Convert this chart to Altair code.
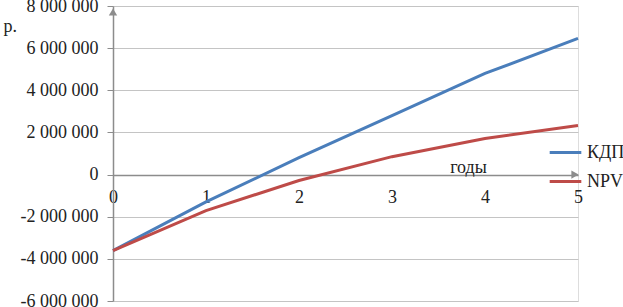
import altair as alt
import pandas as pd

years = [0, 1, 2, 3, 4, 5]
kdp = [-3610000, -1300000, 800000, 2800000, 4800000, 6460000]
npv = [-3610000, -1710000, -280000, 850000, 1710000, 2330000]
series_names = ["КДП", "NPV"]
colors = ["#4a7ebb", "#be4b48"]
y_ticks = [-6000000, -4000000, -2000000, 0, 2000000, 4000000, 6000000, 8000000]

rows = []
for name, vals in zip(series_names, [kdp, npv]):
    for x, v in zip(years, vals):
        rows.append({"year": x, "value": v, "series": name})
df = pd.DataFrame(rows)

FONT = "Liberation Serif"
GRAY = "#8c8c8c"

xscale = alt.Scale(domain=[0, 5], nice=False, zero=False)
yscale = alt.Scale(domain=[-6000000, 8000000], nice=False)

label_expr = ("(datum.value < 0 ? '-' : '') + replace(replace(format(abs(datum.value), ','), ',', ' '), ',', ' ')")

lines = alt.Chart(df).mark_line(strokeWidth=3).encode(
    x=alt.X("year:Q", scale=xscale,
            axis=alt.Axis(values=years, format="d", offset=-126, ticks=False, grid=False,
                          labelFlush=False, labelOverlap=False,
                          domainColor=GRAY, domainWidth=1.5, labelPadding=13,
                          labelFont=FONT, labelFontSize=18, labelColor="#222",
                          title="годы", titleFont=FONT, titleFontSize=18,
                          titleFontWeight="normal", titleColor="#222",
                          titleX=355, titleY=-3, titleBaseline="alphabetic",
                          titleAlign="center")),
    y=alt.Y("value:Q", scale=yscale,
            axis=alt.Axis(values=y_ticks, labelExpr=label_expr, grid=True,
                          labelFlush=False, labelOverlap=False,
                          gridColor="#c4c4c4", gridWidth=1, tickSize=6,
                          tickColor=GRAY, domainColor=GRAY, domainWidth=1.5,
                          labelPadding=9, labelFont=FONT, labelFontSize=18,
                          labelColor="#222", title="р.", titleAngle=0,
                          titleFont=FONT, titleFontSize=18, titleFontWeight="normal",
                          titleColor="#222", titleX=-110, titleY=20,
                          titleAlign="left", titleBaseline="middle")),
    color=alt.Color("series:N",
                    scale=alt.Scale(domain=series_names, range=colors),
                    sort=series_names,
                    legend=alt.Legend(title=None, orient="none", legendX=435,
                                      legendY=129, symbolType="stroke",
                                      symbolSize=1000, symbolStrokeWidth=3,
                                      labelFont=FONT, labelFontSize=18,
                                      labelColor="#222", rowPadding=2,
                                      labelOffset=4)),
)

arrows_df = pd.DataFrame({
    "year": [0, 5],
    "value": [8000000, 0],
})
arrow_up = alt.Chart(arrows_df.iloc[[0]]).mark_point(
    shape="triangle-up", filled=True, color=GRAY, size=70, yOffset=6, opacity=1
).encode(x=alt.X("year:Q", scale=xscale), y=alt.Y("value:Q", scale=yscale))
arrow_right = alt.Chart(arrows_df.iloc[[1]]).mark_point(
    shape="triangle-right", filled=True, color=GRAY, size=70, xOffset=-3, opacity=1
).encode(x=alt.X("year:Q", scale=xscale), y=alt.Y("value:Q", scale=yscale))

chart = alt.layer(lines, arrow_up, arrow_right).properties(
    width=465, height=295,
    autosize=alt.AutoSizeParams(type="none"),
    padding={"left": 113, "top": 6, "right": 45, "bottom": 6},
).configure_view(stroke=None).configure(background="white")

chart.save("out.html", embed_options={"renderer": "svg", "actions": False})
